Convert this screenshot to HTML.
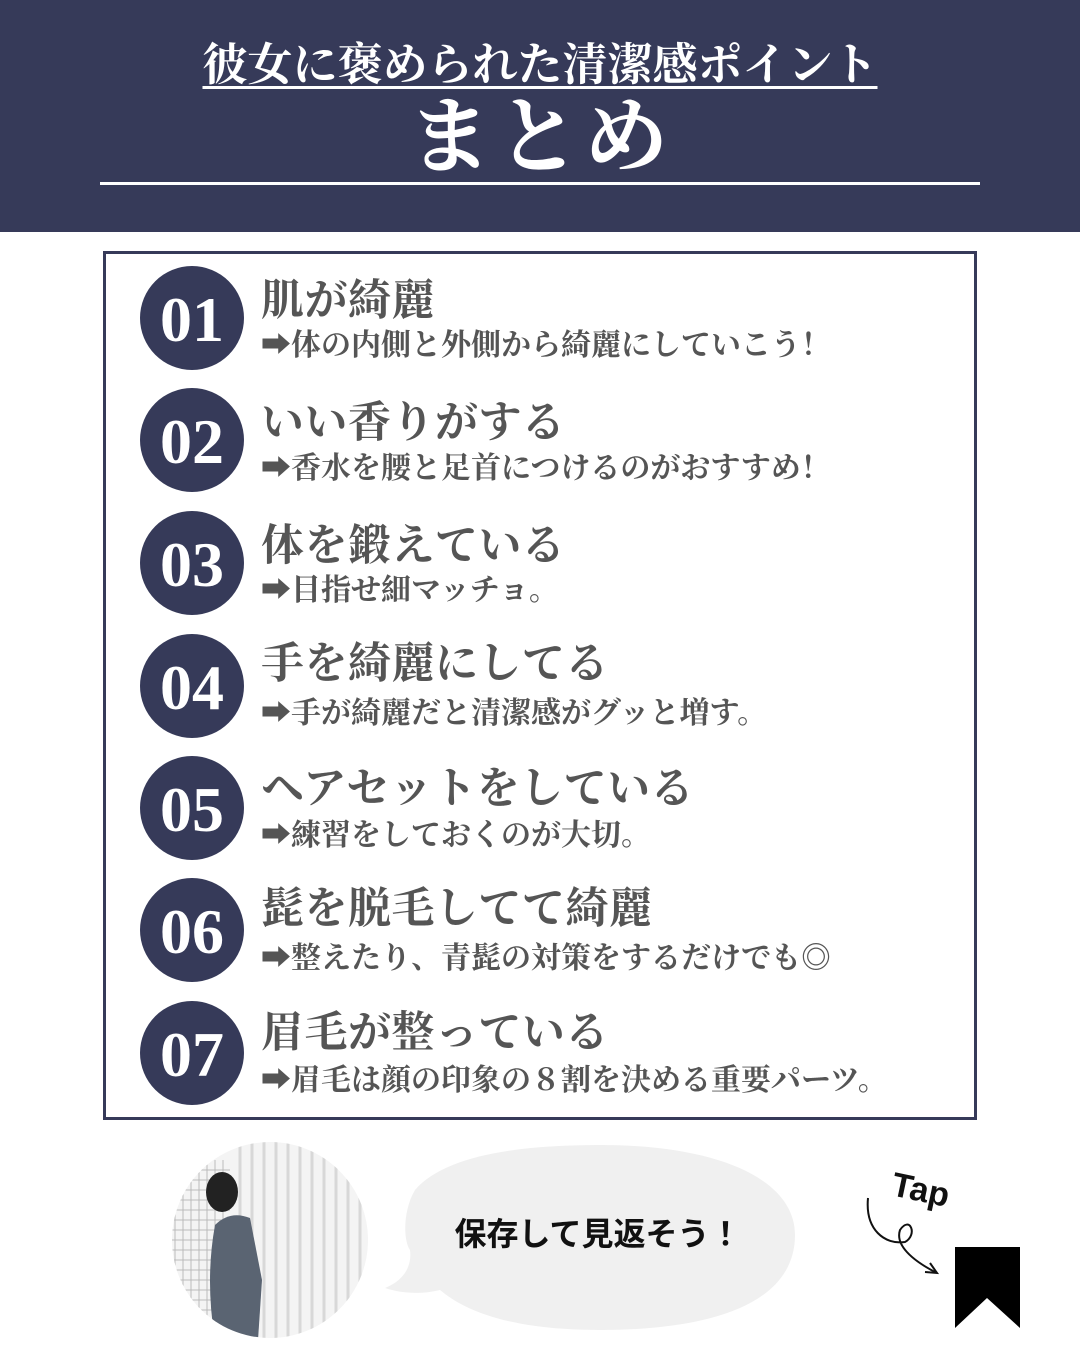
<!DOCTYPE html>
<html><head><meta charset="utf-8"><style>
*{margin:0;padding:0;box-sizing:border-box}
body{width:1080px;height:1350px;background:#fff;position:relative;overflow:hidden;font-family:"Liberation Serif","Noto Serif CJK SC",serif}
.hd{position:absolute;left:0;top:0;width:1080px;height:232px;background:#363a59}
.t1{position:absolute;left:0;width:1080px;top:28px;text-align:center;color:#fff;font-size:45px;font-weight:bold;text-decoration:underline;text-underline-offset:6px;text-decoration-thickness:3px;letter-spacing:0px}
.t2{position:absolute;left:0;width:1080px;top:70px;text-align:center;color:#fff;font-size:84px;font-weight:bold;letter-spacing:4px}
.ln{position:absolute;left:100px;top:182px;width:880px;height:3px;background:#fff}
.box{position:absolute;left:103px;top:251px;width:874px;height:869px;border:3px solid #363a59}
.c{position:absolute;left:140px;width:104px;height:104px;border-radius:50%;background:#363a59;color:#fff;font-size:64px;font-weight:bold;text-align:center;line-height:108px}
.tt{position:absolute;left:261px;color:#555;font-size:43px;font-weight:bold;white-space:nowrap;line-height:1;letter-spacing:0.5px}
.st{position:absolute;left:261px;color:#555;font-size:30px;font-weight:bold;white-space:nowrap;line-height:1}
</style></head><body>
<div class="hd"></div>
<div class="t1">彼女に褒められた清潔感ポイント</div>
<div class="t2">まとめ</div>
<div class="ln"></div>
<div class="box"></div>

<div class="c" style="top:266px">01</div>
<div class="tt" style="top:280px">肌が綺麗</div>
<div class="st" style="top:331px">➡体の内側と外側から綺麗にしていこう！</div>

<div class="c" style="top:388px">02</div>
<div class="tt" style="top:402px">いい香りがする</div>
<div class="st" style="top:454px">➡香水を腰と足首につけるのがおすすめ！</div>

<div class="c" style="top:511px">03</div>
<div class="tt" style="top:525px">体を鍛えている</div>
<div class="st" style="top:576px">➡目指せ細マッチョ。</div>

<div class="c" style="top:634px">04</div>
<div class="tt" style="top:643px">手を綺麗にしてる</div>
<div class="st" style="top:699px">➡手が綺麗だと清潔感がグッと増す。</div>

<div class="c" style="top:756px">05</div>
<div class="tt" style="top:768px">ヘアセットをしている</div>
<div class="st" style="top:821px">➡練習をしておくのが大切。</div>

<div class="c" style="top:878px">06</div>
<div class="tt" style="top:888px">髭を脱毛してて綺麗</div>
<div class="st" style="top:944px">➡整えたり、青髭の対策をするだけでも◎</div>

<div class="c" style="top:1001px">07</div>
<div class="tt" style="top:1012px">眉毛が整っている</div>
<div class="st" style="top:1066px">➡眉毛は顔の印象の８割を決める重要パーツ。</div>

<svg style="position:absolute;left:0;top:1130px" width="1080" height="220">
<defs><clipPath id="cp"><ellipse cx="270" cy="110" rx="98" ry="98"/></clipPath></defs>
<g clip-path="url(#cp)">
<rect x="170" y="10" width="200" height="200" fill="#f4f4f4"/>
<g stroke="#bbb" stroke-width="1">
<path d="M175 30V210M183 30V210M191 30V210M199 30V210M207 30V210M215 30V210M223 30V210"/>
<path d="M170 40H230M170 50H230M170 60H230M170 70H230M170 80H230M170 90H230M170 100H230M170 110H230M170 120H230M170 130H230M170 140H230M170 150H230M170 160H230M170 170H230M170 180H230M170 190H230"/>
</g>
<g stroke="#d8d8d8" stroke-width="3"><path d="M240 0V210M252 0V210M264 0V210M276 0V210M288 0V210M300 0V210M312 0V210M324 0V210M336 0V210M348 0V210M360 0V210"/></g>
<path d="M215 95 Q230 80 250 88 L262 150 L258 210 L215 210 Q205 150 215 95Z" fill="#5a6472"/>
<ellipse cx="222" cy="62" rx="16" ry="20" fill="#222"/>
</g>
<path d="M600 15 C720 15 795 50 795 105 C795 170 720 200 600 200 C520 200 470 185 440 160 C420 165 400 163 385 158 C405 150 412 135 410 120 C403 110 403 80 415 60 C445 25 520 15 600 15Z" fill="#f0f0f0"/>
<text x="598" y="115" text-anchor="middle" font-family="Liberation Sans,Noto Sans CJK JP,sans-serif" font-weight="bold" font-size="32" fill="#111">保存して見返そう！</text>
<text x="890" y="65" font-family="Liberation Sans,sans-serif" font-size="34" font-weight="bold" fill="#111" transform="rotate(12 890 65)">Tap</text>
<path d="M868 68 C865 100 885 115 905 112 C918 105 910 85 900 100 C895 115 912 130 935 142" fill="none" stroke="#111" stroke-width="2"/>
<path d="M925 142 L937 143 L930 133" fill="none" stroke="#111" stroke-width="2"/>
<path d="M955 117 H1020 V198 L987 168 L955 198Z" fill="#000"/>
</svg>
</body></html>
